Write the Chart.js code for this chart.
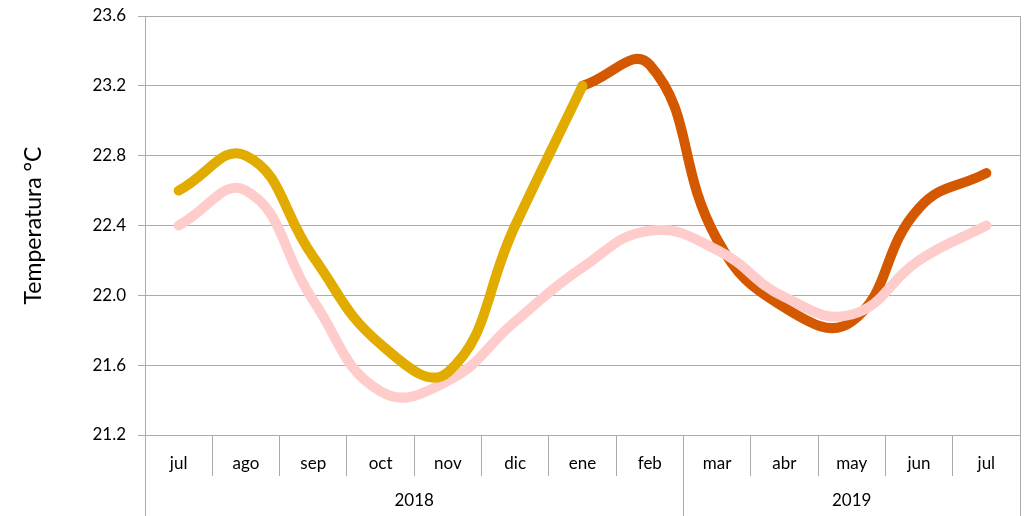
<!DOCTYPE html>
<html>
<head>
<meta charset="utf-8">
<script src="https://cdn.jsdelivr.net/npm/chart.js@4"></script>
<style>
  body { margin: 0; background: #fff; }
</style>
</head>
<body>
<canvas id="tempChart" width="1030" height="516"></canvas>
<script>
// categorias (meses) y agrupacion por año
const meses = ['jul', 'ago', 'sep', 'oct', 'nov', 'dic', 'ene', 'feb', 'mar', 'abr', 'may', 'jun', 'jul'];
const anios = ['2018', '2019'];
const mesesPorAnio = [8, 5];

// serie dorada (hasta ene) y naranja (desde ene)
const serieDorada = [22.6, 22.8, 22.22, 21.72, 21.56, 22.4, 23.2, null, null, null, null, null, null];
const serieNaranja = [null, null, null, null, null, null, 23.2, 23.32, 22.32, 21.93, 21.85, 22.5, 22.7];
// serie rosa
const serieRosa = [22.4, 22.6, 21.97, 21.45, 21.51, 21.85, 22.16, 22.37, 22.26, 21.99, 21.89, 22.2, 22.4];

const ticksY = [21.2, 21.6, 22.0, 22.4, 22.8, 23.2, 23.6];

const fuente = 'Lato, "DejaVu Sans", sans-serif';
const gris = '#ababab';

// dibuja la fila de años con sus separadores
const filaAnios = {
  id: 'filaAnios',
  afterDraw(chart) {
    const ctx = chart.ctx;
    const x = chart.scales.x;
    const area = chart.chartArea;
    const medio = (x.getPixelForValue(1) - x.getPixelForValue(0)) / 2;
    ctx.save();
    ctx.strokeStyle = gris;
    ctx.lineWidth = 1;
    // borde derecho del area
    ctx.beginPath();
    ctx.moveTo(area.right + 0.5, area.top);
    ctx.lineTo(area.right + 0.5, area.bottom);
    ctx.stroke();
    let inicio = 0;
    ctx.fillStyle = '#000';
    ctx.font = '17px ' + fuente;
    ctx.textAlign = 'center';
    ctx.textBaseline = 'middle';
    const lineaV = function(px) {
      ctx.beginPath();
      ctx.moveTo(Math.round(px) + 0.5, area.bottom);
      ctx.lineTo(Math.round(px) + 0.5, chart.height);
      ctx.stroke();
    };
    lineaV(x.getPixelForValue(0) - medio);
    anios.forEach(function(a, i) {
      const fin = inicio + mesesPorAnio[i] - 1;
      const izq = x.getPixelForValue(inicio) - medio;
      const der = x.getPixelForValue(fin) + medio;
      lineaV(der);
      ctx.fillText(a, (izq + der) / 2, 501);
      inicio = fin + 1;
    });
    ctx.restore();
  }
};

new Chart(document.getElementById('tempChart'), {
  type: 'line',
  data: {
    labels: meses,
    datasets: [
      {
        data: serieDorada,
        borderColor: '#e2ab00',
        borderWidth: 10,
        order: 1
      },
      {
        data: serieRosa,
        borderColor: '#ffcccc',
        borderWidth: 10,
        order: 2
      },
      {
        data: serieNaranja,
        borderColor: '#d45800',
        borderWidth: 10,
        order: 3
      }
    ]
  },
  options: {
    responsive: false,
    animation: false,
    layout: { padding: { top: 16, right: 10, left: 0, bottom: 0 } },
    elements: {
      point: { radius: 0, hoverRadius: 0 },
      line: { tension: 0.45, borderCapStyle: 'round', borderJoinStyle: 'round', fill: false }
    },
    spanGaps: false,
    plugins: {
      legend: { display: false },
      tooltip: { enabled: false }
    },
    scales: {
      x: {
        type: 'category',
        offset: true,
        grid: { drawOnChartArea: false, offset: true, tickLength: 41, color: gris },
        border: { color: gris },
        ticks: { color: '#000', font: { size: 17, family: fuente }, padding: -23, maxRotation: 0 },
        afterFit(scale) { scale.height = 81; }
      },
      y: {
        min: 21.2,
        max: 23.6,
        afterBuildTicks(scale) { scale.ticks = ticksY.map(function(v) { return { value: v }; }); },
        grid: { color: gris, tickLength: 7 },
        border: { color: gris },
        ticks: {
          color: '#000',
          font: { size: 17, family: fuente },
          padding: 12,
          callback: function(v) { return Number(v).toFixed(1); }
        },
        title: {
          display: true,
          text: 'Temperatura °C',
          color: '#000',
          font: { size: 23, family: fuente },
          padding: { top: 20, bottom: 0 }
        },
        afterFit(scale) {
          scale.width = 145;
          scale.paddingTop = 0;
          scale.paddingBottom = 0;
        }
      }
    }
  },
  plugins: [filaAnios]
});
</script>
</body>
</html>
